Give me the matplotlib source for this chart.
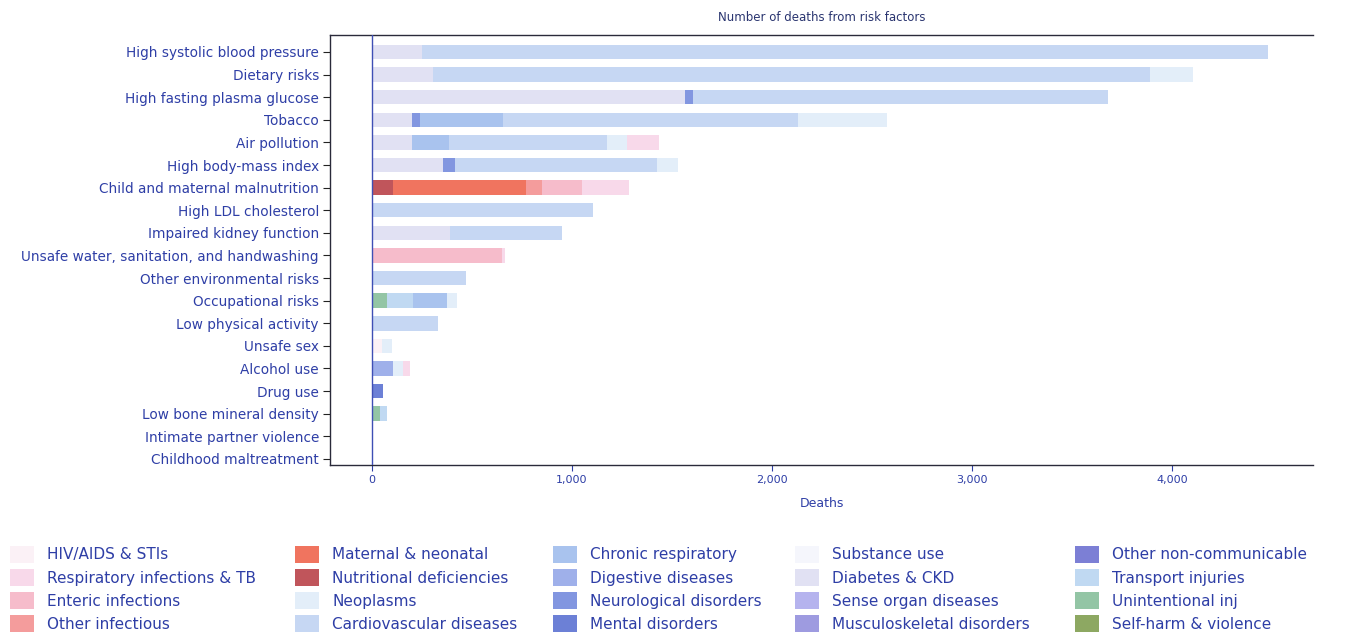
import numpy as np
import matplotlib.pyplot as plt
from matplotlib.patches import Patch
from matplotlib.ticker import FuncFormatter

# risk factors, top to bottom
risks = ['High systolic blood pressure', 'Dietary risks', 'High fasting plasma glucose',
         'Tobacco', 'Air pollution', 'High body-mass index', 'Child and maternal malnutrition',
         'High LDL cholesterol', 'Impaired kidney function',
         'Unsafe water, sanitation, and handwashing', 'Other environmental risks',
         'Occupational risks', 'Low physical activity', 'Unsafe sex', 'Alcohol use',
         'Drug use', 'Low bone mineral density', 'Intimate partner violence',
         'Childhood maltreatment']

# deaths by cause for each risk factor (same order as risks)
hiv           = [0, 0, 0, 0, 0, 0, 0, 0, 0, 0, 0, 0, 0, 50, 0, 0, 0, 0, 0]
resp_inf      = [0, 0, 0, 0, 160, 0, 235, 0, 0, 15, 0, 0, 0, 0, 35, 0, 0, 0, 0]
enteric       = [0, 0, 0, 0, 0, 0, 200, 0, 0, 650, 0, 0, 0, 0, 0, 0, 0, 0, 0]
other_inf     = [0, 0, 0, 0, 0, 0, 80, 0, 0, 0, 0, 0, 0, 0, 0, 0, 0, 0, 0]
maternal      = [0, 0, 0, 0, 0, 0, 665, 0, 0, 0, 0, 0, 0, 0, 0, 0, 0, 0, 0]
nutritional   = [0, 0, 0, 0, 0, 0, 105, 0, 0, 0, 0, 0, 0, 0, 0, 0, 0, 0, 0]
neoplasms     = [0, 215, 0, 445, 100, 105, 0, 0, 0, 0, 0, 50, 0, 50, 50, 0, 0, 0, 0]
cardio        = [4230, 3585, 2075, 1475, 790, 1010, 0, 1105, 560, 0, 470, 0, 330, 0, 0, 0, 0, 0, 0]
chronic_resp  = [0, 0, 0, 415, 185, 0, 0, 0, 0, 0, 0, 170, 0, 0, 0, 0, 0, 0, 0]
digestive     = [0, 0, 0, 0, 0, 0, 0, 0, 0, 0, 0, 0, 0, 0, 105, 0, 0, 0, 0]
neuro         = [0, 0, 40, 40, 0, 60, 0, 0, 0, 0, 0, 0, 0, 0, 0, 0, 0, 0, 0]
mental        = [0, 0, 0, 0, 0, 0, 0, 0, 0, 0, 0, 0, 0, 0, 0, 55, 0, 0, 0]
substance     = [0] * 19
diabetes      = [250, 305, 1565, 200, 200, 355, 0, 0, 390, 0, 0, 0, 0, 0, 0, 0, 0, 0, 0]
sense         = [0] * 19
msk           = [0] * 19
other_ncd     = [0] * 19
transport     = [0, 0, 0, 0, 0, 0, 0, 0, 0, 0, 0, 130, 0, 0, 0, 0, 35, 0, 0]
unintentional = [0, 0, 0, 0, 0, 0, 0, 0, 0, 0, 0, 75, 0, 0, 0, 0, 40, 0, 0]
self_harm     = [0, 0, 0, 0, 0, 0, 0, 0, 0, 0, 0, 0, 0, 0, 0, 0, 0, 3, 2]

causes = ['HIV/AIDS & STIs', 'Respiratory infections & TB', 'Enteric infections',
          'Other infectious', 'Maternal & neonatal', 'Nutritional deficiencies',
          'Neoplasms', 'Cardiovascular diseases', 'Chronic respiratory',
          'Digestive diseases', 'Neurological disorders', 'Mental disorders',
          'Substance use', 'Diabetes & CKD', 'Sense organ diseases',
          'Musculoskeletal disorders', 'Other non-communicable', 'Transport injuries',
          'Unintentional inj', 'Self-harm & violence']
series = [hiv, resp_inf, enteric, other_inf, maternal, nutritional, neoplasms, cardio,
          chronic_resp, digestive, neuro, mental, substance, diabetes, sense, msk,
          other_ncd, transport, unintentional, self_harm]
colors = ['#fbf1f6', '#f8d9ea', '#f6bccb', '#f49c9c', '#f0745f', '#c0555b',
          '#e3eef9', '#c6d7f3', '#a9c3ee', '#9fb0ea', '#8296e0', '#6c80d6',
          '#f5f6fc', '#e1e1f3', '#b5b3ee', '#9e9be0', '#7c7fd5',
          '#c0d9f2', '#93c5a5', '#8da862']

# left-to-right stacking order inside each bar
stack = [5, 4, 18, 19, 17, 0, 11, 9, 13, 10, 8, 7, 6, 3, 2, 1, 12, 14, 15, 16]

txt = '#2e3ea6'
plt.rcParams['font.family'] = 'DejaVu Sans'

fig = plt.figure(figsize=(13.64, 6.37), dpi=100)
ax = fig.add_axes([0.242, 0.270, 0.7206, 0.675])

y = np.arange(len(risks))
left = np.zeros(len(risks))
for i in stack:
    vals = np.array(series[i], dtype=float)
    ax.barh(y, vals, left=left, height=0.64, color=colors[i], linewidth=0)
    left += vals

ax.axvline(0, color='#3f4fb5', lw=1, zorder=3)
ax.set_xlim(-210, 4705)
ax.set_ylim(18.27, -0.75)
ax.set_yticks(y)
ax.set_yticklabels(risks, fontsize=9.8, color=txt)
ax.set_xticks([0, 1000, 2000, 3000, 4000])
ax.xaxis.set_major_formatter(FuncFormatter(lambda v, p: f'{int(v):,}'))
ax.tick_params(axis='x', labelsize=8, colors=txt, length=4)
ax.tick_params(axis='y', length=5, color='#222222', pad=3)
for s in ['left', 'bottom', 'top']:
    ax.spines[s].set_color('#2a2a3a')
    ax.spines[s].set_linewidth(1)
ax.spines['right'].set_visible(False)
ax.set_xlabel('Deaths', fontsize=9, color=txt, labelpad=8)
ax.set_title('Number of deaths from risk factors', fontsize=8.5, color='#2a3570', pad=10)

# legend: five columns, four rows, placed column by column
col_x = [10, 295, 553, 795, 1075]
for c in range(5):
    idx = range(c * 4, c * 4 + 4)
    handles = [Patch(facecolor=colors[i], edgecolor='none') for i in idx]
    leg = fig.legend(handles, [causes[i] for i in idx], loc='upper left',
                     bbox_to_anchor=(col_x[c] / 1364, (637 - 546) / 637),
                     frameon=False, fontsize=11, handlelength=1.6, handleheight=1.3,
                     labelspacing=0.42, handletextpad=0.85, borderpad=0, borderaxespad=0)
    for t in leg.get_texts():
        t.set_color(txt)

fig.savefig('out.png', dpi=100)
